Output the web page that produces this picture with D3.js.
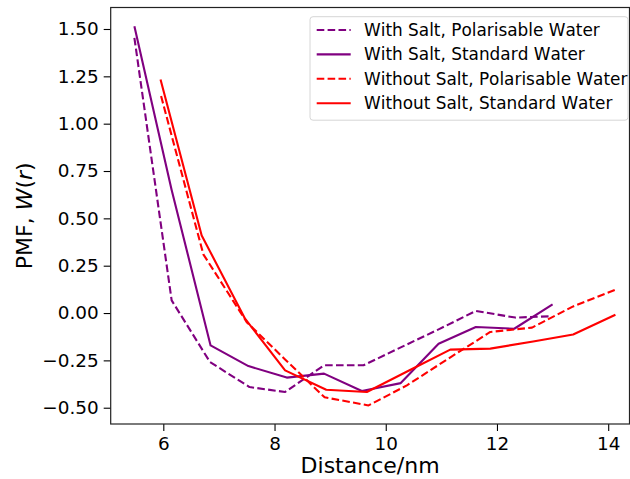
<!DOCTYPE html>
<html lang="en">
<head>
<meta charset="UTF-8" />
<script src="https://d3js.org/d3.v7.min.js"></script>
<style>
  body { margin: 0; background: #fff; }
  text { font-family: "DejaVu Sans", sans-serif; fill: #000; }
  .legend-label { font-kerning: none; }
</style>
</head>
<body>
<svg id="pmf-plot" width="630" height="479"></svg>
<script>
// distances (nm) and PMF values
const saltPolX = [5.48, 6.15, 6.84, 7.55, 8.19, 8.89, 9.60, 10.28, 10.96, 11.62, 12.33, 12.97];
const saltPolY = [1.453, 0.067, -0.259, -0.391, -0.417, -0.276, -0.276, -0.18, -0.085, 0.011, -0.024, -0.017];

const saltStdX = [5.48, 6.15, 6.85, 7.53, 8.22, 8.89, 9.57, 10.27, 10.95, 11.62, 12.31, 13.0];
const saltStdY = [1.515, 0.65, -0.171, -0.28, -0.341, -0.32, -0.412, -0.37, -0.162, -0.074, -0.083, 0.046];

const noSaltPolX = [5.96, 6.72, 7.50, 8.19, 8.90, 9.69, 10.38, 11.13, 11.88, 12.63, 13.37, 14.13];
const noSaltPolY = [1.146, 0.31, -0.048, -0.245, -0.445, -0.488, -0.382, -0.24, -0.10, -0.077, 0.035, 0.123];

const noSaltStdX = [5.95, 6.69, 7.47, 8.19, 8.93, 9.66, 10.41, 11.16, 11.88, 12.65, 13.37, 14.13];
const noSaltStdY = [1.233, 0.41, -0.03, -0.303, -0.405, -0.417, -0.305, -0.193, -0.188, -0.15, -0.113, -0.009];

const xTicks = [6, 8, 10, 12, 14];
const yTicks = [-0.5, -0.25, 0, 0.25, 0.5, 0.75, 1.0, 1.25, 1.5];

const seriesNames = [
  'With Salt, Polarisable Water',
  'With Salt, Standard Water',
  'Without Salt, Polarisable Water',
  'Without Salt, Standard Water'
];

const series = [
  { name: seriesNames[0], xs: saltPolX, ys: saltPolY, color: 'purple', dashed: true },
  { name: seriesNames[1], xs: saltStdX, ys: saltStdY, color: 'purple', dashed: false },
  { name: seriesNames[2], xs: noSaltPolX, ys: noSaltPolY, color: 'red', dashed: true },
  { name: seriesNames[3], xs: noSaltStdX, ys: noSaltStdY, color: 'red', dashed: false }
];

const svg = d3.select('#pmf-plot');

const margin = { left: 110.7, top: 7.5, right: 629.5, bottom: 424 };

const xScale = d3.scaleLinear()
  .domain([5.054, 14.383])
  .range([margin.left, margin.right]);

const yScale = d3.scaleLinear()
  .domain([-0.586, 1.6135])
  .range([margin.bottom, margin.top]);

// lines
const line = d3.line()
  .x(d => xScale(d[0]))
  .y(d => yScale(d[1]));

series.forEach(s => {
  const pts = s.xs.map((x, i) => [x, s.ys[i]]);
  svg.append('path')
    .datum(pts)
    .attr('d', line)
    .attr('fill', 'none')
    .attr('stroke', s.color)
    .attr('stroke-width', 2.1)
    .attr('stroke-linejoin', 'round')
    .attr('stroke-dasharray', s.dashed ? '7.6,3.3' : null);
});

// axes
const fmtY = d => d3.format('.2f')(d).replace('-', '\u2212');

const xAxis = d3.axisBottom(xScale)
  .tickValues(xTicks)
  .tickSize(7)
  .tickPadding(6)
  .tickFormat(d3.format('d'));

const yAxis = d3.axisLeft(yScale)
  .tickValues(yTicks)
  .tickSize(7)
  .tickPadding(5)
  .tickFormat(fmtY);

const xAxisG = svg.append('g')
  .attr('transform', `translate(0,${margin.bottom})`)
  .call(xAxis);
xAxisG.select('.domain').remove();

const yAxisG = svg.append('g')
  .attr('transform', `translate(${margin.left},0)`)
  .call(yAxis);
yAxisG.select('.domain').remove();

svg.selectAll('.tick line').attr('stroke', '#000').attr('stroke-width', 1.1);
svg.selectAll('.tick text')
  .style('font-family', '"DejaVu Sans", sans-serif')
  .style('font-size', '18.4px')
  .attr('fill', '#000');

// frame
svg.append('rect')
  .attr('x', margin.left)
  .attr('y', margin.top)
  .attr('width', margin.right - margin.left)
  .attr('height', margin.bottom - margin.top)
  .attr('fill', 'none')
  .attr('stroke', '#222')
  .attr('stroke-width', 1.2);

// axis labels
svg.append('text')
  .attr('x', (margin.left + margin.right) / 2)
  .attr('y', 473)
  .attr('text-anchor', 'middle')
  .style('font-size', '22px')
  .text('Distance/nm');

const yLab = svg.append('text')
  .attr('transform', `translate(32,${(margin.top + margin.bottom) / 2}) rotate(-90)`)
  .attr('text-anchor', 'middle')
  .style('font-size', '22px');
yLab.append('tspan').text('PMF, ');
yLab.append('tspan').attr('font-style', 'italic').text('W');
yLab.append('tspan').text('(');
yLab.append('tspan').attr('font-style', 'italic').text('r');
yLab.append('tspan').text(')');

// legend
const legend = svg.append('g');
legend.append('rect')
  .attr('x', 310)
  .attr('y', 16.7)
  .attr('width', 318)
  .attr('height', 103.5)
  .attr('rx', 3)
  .attr('fill', 'rgba(255,255,255,0.8)')
  .attr('stroke', '#d6d6d6')
  .attr('stroke-width', 1);

series.forEach((s, i) => {
  const cy = 30 + i * 24.4;
  legend.append('line')
    .attr('x1', 316.7).attr('x2', 350.7)
    .attr('y1', cy).attr('y2', cy)
    .attr('stroke', s.color)
    .attr('stroke-width', 2.1)
    .attr('stroke-dasharray', s.dashed ? '7.6,3.3' : null);
  legend.append('text')
    .attr('class', 'legend-label')
    .attr('x', 364)
    .attr('y', cy + 6)
    .style('font-size', '16.9px')
    .text(s.name);
});
</script>
</body>
</html>
